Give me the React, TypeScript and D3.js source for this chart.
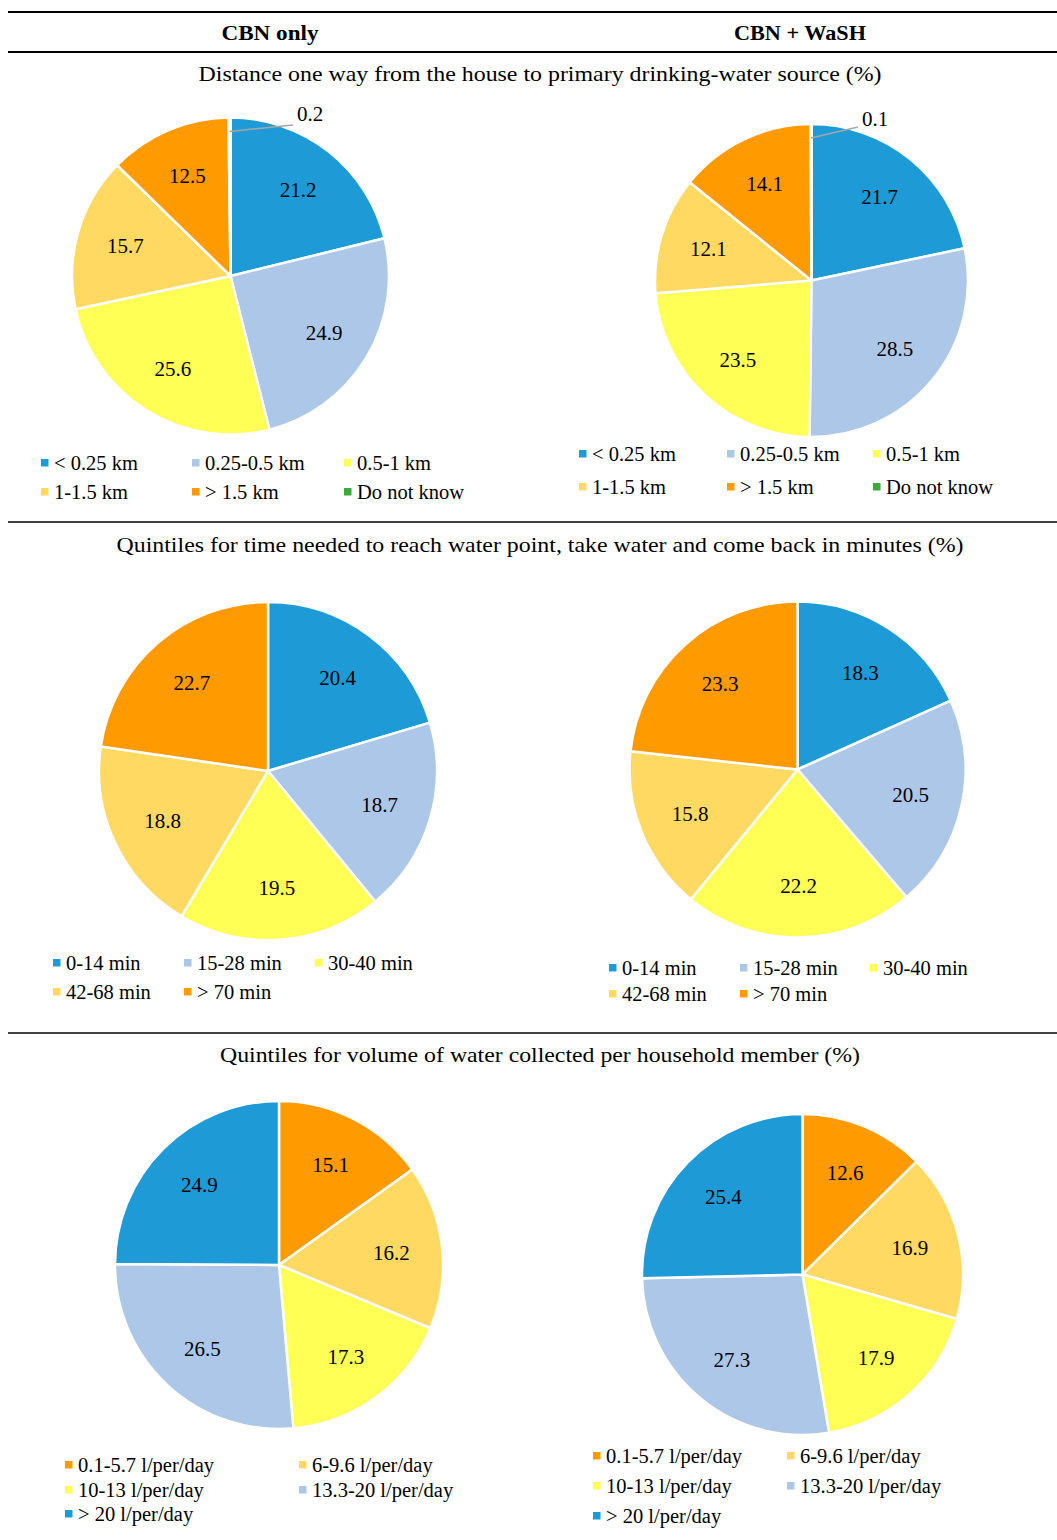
import React from "react";
import * as d3 from "d3";

// ---------- data ----------
const headers = ["CBN only", "CBN + WaSH"];
const sectionTitles = [
  "Distance one way from the house to primary drinking-water source (%)",
  "Quintiles for time needed to reach water point, take water and come back in minutes (%)",
  "Quintiles for volume of water collected per household member (%)",
];

const distCats = ["< 0.25 km", "0.25-0.5 km", "0.5-1 km", "1-1.5 km", "> 1.5 km", "Do not know"];
const distCBN = [21.2, 24.9, 25.6, 15.7, 12.5, 0.2];
const distWASH = [21.7, 28.5, 23.5, 12.1, 14.1, 0.1];

const timeCats = ["0-14 min", "15-28 min", "30-40 min", "42-68 min", "> 70 min"];
const timeCBN = [20.4, 18.7, 19.5, 18.8, 22.7];
const timeWASH = [18.3, 20.5, 22.2, 15.8, 23.3];

const volCats = ["0.1-5.7 l/per/day", "6-9.6 l/per/day", "10-13 l/per/day", "13.3-20 l/per/day", "> 20 l/per/day"];
const volCBN = [15.1, 16.2, 17.3, 26.5, 24.9];
const volWASH = [12.6, 16.9, 17.9, 27.3, 25.4];

// ---------- styles ----------
const BLUE = "#1E9BD7";
const LBLUE = "#ADC7E8";
const YELLOW = "#FFFF55";
const LORANGE = "#FFD961";
const ORANGE = "#FF9A00";
const GREEN = "#3AAA3A";

const distColors = [BLUE, LBLUE, YELLOW, LORANGE, ORANGE, GREEN];
const timeColors = [BLUE, LBLUE, YELLOW, LORANGE, ORANGE];
const volColors = [ORANGE, LORANGE, YELLOW, LBLUE, BLUE];

const FONT = "'Liberation Serif', 'Times New Roman', serif";

type PieSpec = {
  values: number[];
  cats: string[];
  colors: string[];
  cx: number;
  cy: number;
  r: number;
  legendCols: number[];
  legendRows: number[];
  ncols: number;
  small?: { end: [number, number]; text: [number, number] };
};

const pies: PieSpec[] = [
  {
    values: distCBN, cats: distCats, colors: distColors,
    cx: 230.5, cy: 276, r: 158.5,
    legendCols: [41, 192, 344], legendRows: [463, 492], ncols: 3,
    small: { end: [293, 125], text: [297, 114] },
  },
  {
    values: distWASH, cats: distCats, colors: distColors,
    cx: 811.5, cy: 280.5, r: 156.5,
    legendCols: [579, 727, 873], legendRows: [454, 487], ncols: 3,
    small: { end: [858, 127], text: [862, 119] },
  },
  {
    values: timeCBN, cats: timeCats, colors: timeColors,
    cx: 268, cy: 771, r: 169,
    legendCols: [53, 184, 315], legendRows: [963, 992], ncols: 3,
  },
  {
    values: timeWASH, cats: timeCats, colors: timeColors,
    cx: 797.5, cy: 769.5, r: 168,
    legendCols: [609, 740, 870], legendRows: [968, 994], ncols: 3,
  },
  {
    values: volCBN, cats: volCats, colors: volColors,
    cx: 279, cy: 1265, r: 164,
    legendCols: [65, 299], legendRows: [1465, 1490, 1514], ncols: 2,
  },
  {
    values: volWASH, cats: volCats, colors: volColors,
    cx: 802.5, cy: 1274.5, r: 160.5,
    legendCols: [593, 787], legendRows: [1456, 1486, 1516], ncols: 2,
  },
];

const titleSpecs = [
  { y: 81, len: 683 },
  { y: 552, len: 847 },
  { y: 1062, len: 640 },
];

const rules = [
  { y: 12, w: 2 },
  { y: 52, w: 2 },
  { y: 522, w: 1.6 },
  { y: 1033, w: 1.6 },
];

function Pie({ spec }: { spec: PieSpec }) {
  const pie = d3.pie<number>().sort(null).value((d) => d);
  const arcs = pie(spec.values);
  const arc = d3.arc<d3.PieArcDatum<number>>().innerRadius(0).outerRadius(spec.r);
  const labelArc = d3
    .arc<d3.PieArcDatum<number>>()
    .innerRadius(spec.r * 0.69)
    .outerRadius(spec.r * 0.69);
  const innerArc = d3
    .arc<d3.PieArcDatum<number>>()
    .innerRadius(spec.r - 14)
    .outerRadius(spec.r - 14);

  return (
    <g>
      <g transform={`translate(${spec.cx},${spec.cy})`}>
        {arcs.map((a, i) => (
          <path key={i} d={arc(a) || ""} fill={spec.colors[i]} stroke="#fff" strokeWidth={2.5} strokeLinejoin="round" />
        ))}
        {arcs.map((a, i) => {
          if (a.data < 1) return null;
          const [x, y] = labelArc.centroid(a);
          return (
            <text key={i} x={x} y={y} dy="0.35em" textAnchor="middle" fontSize={21} fontFamily={FONT} fill="#000">
              {a.data.toFixed(1)}
            </text>
          );
        })}
      </g>
      {arcs.map((a, i) => {
        if (a.data >= 1 || !spec.small) return null;
        const [sx, sy] = innerArc.centroid(a);
        return (
          <g key={"s" + i}>
            <line
              x1={spec.cx + sx}
              y1={spec.cy + sy}
              x2={spec.small.end[0]}
              y2={spec.small.end[1]}
              stroke="#A6A6A6"
              strokeWidth={1.5}
            />
            <text x={spec.small.text[0]} y={spec.small.text[1]} dy="0.35em" fontSize={21} fontFamily={FONT} fill="#000">
              {a.data.toFixed(1)}
            </text>
          </g>
        );
      })}
      {spec.cats.map((c, i) => {
        const col = i % spec.ncols;
        const row = Math.floor(i / spec.ncols);
        const x = spec.legendCols[col];
        const y = spec.legendRows[row];
        return (
          <g key={"l" + i}>
            <rect x={x} y={y - 4} width={7.5} height={7.5} fill={spec.colors[i]} />
            <text x={x + 13} y={y} dy="0.35em" fontSize={20.5} fontFamily={FONT} fill="#000">
              {c}
            </text>
          </g>
        );
      })}
    </g>
  );
}

export default function App() {
  return (
    <svg
      width={1057}
      height={1540}
      style={{ position: "absolute", left: 0, top: 0, background: "#fff" }}
      xmlns="http://www.w3.org/2000/svg"
    >
      <rect x={0} y={0} width={1057} height={1540} fill="#fff" />
      {rules.map((r, i) => (
        <line key={i} x1={8} x2={1057} y1={r.y} y2={r.y} stroke="#000" strokeWidth={r.w} />
      ))}
      <text x={270} y={40} textAnchor="middle" fontSize={22} fontWeight="bold" fontFamily={FONT} textLength={97} lengthAdjust="spacingAndGlyphs">
        {headers[0]}
      </text>
      <text x={800} y={40} textAnchor="middle" fontSize={22} fontWeight="bold" fontFamily={FONT} textLength={132} lengthAdjust="spacingAndGlyphs">
        {headers[1]}
      </text>
      {sectionTitles.map((t, i) => (
        <text
          key={i}
          x={540}
          y={titleSpecs[i].y}
          textAnchor="middle"
          fontSize={21.5}
          fontFamily={FONT}
          textLength={titleSpecs[i].len}
          lengthAdjust="spacingAndGlyphs"
        >
          {t}
        </text>
      ))}
      {pies.map((p, i) => (
        <Pie key={i} spec={p} />
      ))}
    </svg>
  );
}
